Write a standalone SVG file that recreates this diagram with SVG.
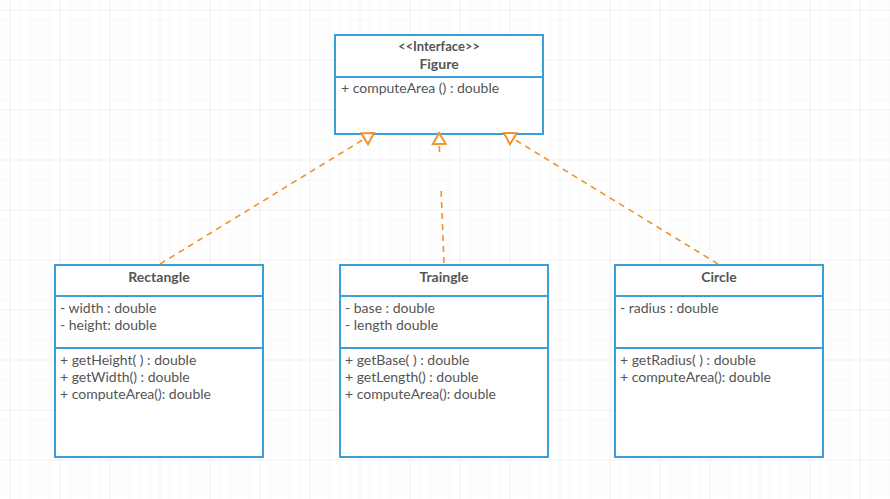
<svg xmlns="http://www.w3.org/2000/svg" width="890" height="499" viewBox="0 0 890 499">
<defs>
<pattern id="minor" width="10" height="10" patternUnits="userSpaceOnUse" x="9.5" y="9.5">
<path d="M0 0 H10 M0 0 V10" fill="none" stroke="#f3f3f3" stroke-width="1"/>
</pattern>
<pattern id="major" width="50" height="50" patternUnits="userSpaceOnUse" x="9.5" y="9.5">
<path d="M0 0 H50 M0 0 V50" fill="none" stroke="#ebebeb" stroke-width="1"/>
</pattern>
<marker id="tri" markerWidth="16" markerHeight="20" refX="13" refY="9" orient="auto" markerUnits="userSpaceOnUse">
<path d="M2 2.5 L13 9 L2 15.5 Z" fill="#fff" stroke="#f0922e" stroke-width="2"/>
</marker>
</defs>
<style>
.box{fill:#fff;stroke:#3a9fd8;stroke-width:2}
.div{stroke:#3a9fd8;stroke-width:2}
text{font-family:Lato,"Liberation Sans",sans-serif;font-size:14px;fill:#555}
.t{font-weight:bold;text-anchor:middle}
.c{text-anchor:middle}
.dash{fill:none;stroke:#f0922e;stroke-width:1.6;stroke-dasharray:6,5}
</style>
<rect width="890" height="499" fill="#fff"/>
<rect width="890" height="499" fill="url(#minor)"/>
<rect width="890" height="499" fill="url(#major)"/>

<g id="figure">
<rect class="box" x="335" y="35" width="208" height="99"/>
<line class="div" x1="335" y1="77" x2="543" y2="77"/>
<text class="c" x="439" y="51" style="font-size:13px;font-weight:bold">&lt;&lt;Interface&gt;&gt;</text>
<text class="t" x="439" y="69">Figure</text>
<text x="341" y="93">+ computeArea () : double</text>
</g>

<g id="rectangle">
<rect class="box" x="55" y="265" width="208" height="192"/>
<line class="div" x1="55" y1="296" x2="263" y2="296"/>
<line class="div" x1="55" y1="348" x2="263" y2="348"/>
<text class="t" x="159" y="282">Rectangle</text>
<text x="60" y="313">- width : double</text>
<text x="60" y="330">- height: double</text>
<text x="60" y="365">+ getHeight( ) : double</text>
<text x="60" y="382">+ getWidth() : double</text>
<text x="60" y="399">+ computeArea(): double</text>
</g>

<g id="traingle">
<rect class="box" x="340" y="265" width="208" height="192"/>
<line class="div" x1="340" y1="296" x2="548" y2="296"/>
<line class="div" x1="340" y1="348" x2="548" y2="348"/>
<text class="t" x="444" y="282">Traingle</text>
<text x="345" y="313">- base : double</text>
<text x="345" y="330">- length double</text>
<text x="345" y="365">+ getBase( ) : double</text>
<text x="345" y="382">+ getLength() : double</text>
<text x="345" y="399">+ computeArea(): double</text>
</g>

<g id="circle">
<rect class="box" x="615" y="265" width="208" height="192"/>
<line class="div" x1="615" y1="296" x2="823" y2="296"/>
<line class="div" x1="615" y1="348" x2="823" y2="348"/>
<text class="t" x="719" y="282">Circle</text>
<text x="620" y="313">- radius : double</text>
<text x="620" y="365">+ getRadius( ) : double</text>
<text x="620" y="382">+ computeArea(): double</text>
</g>

<g id="connectors">
<line class="dash" x1="160" y1="264" x2="374" y2="133" marker-end="url(#tri)"/>
<line class="dash" x1="444" y1="263" x2="441" y2="187"/>
<line class="dash" x1="439.5" y1="152" x2="439" y2="133" stroke-dasharray="7,30" marker-end="url(#tri)"/>
<line class="dash" x1="718" y1="264" x2="504" y2="133" marker-end="url(#tri)"/>
</g>
</svg>
